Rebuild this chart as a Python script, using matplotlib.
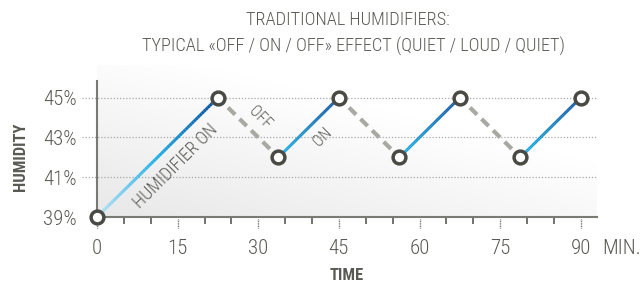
import numpy as np
import matplotlib
matplotlib.use("Agg")
import matplotlib.pyplot as plt
from matplotlib.collections import LineCollection
from matplotlib.colors import LinearSegmentedColormap
from matplotlib import font_manager

# ---- data ----
times = [0, 22.5, 33.75, 45, 56.25, 67.5, 78.75, 90]
humidity = [39, 45, 42, 45, 42, 45, 42, 45]
states = ["on", "off", "on", "off", "on", "off", "on"]
yticks = [39, 41, 43, 45]
ytick_labels = ["39%", "41%", "43%", "45%"]
xticks_major = [0, 15, 30, 45, 60, 75, 90]
xticks_minor = [5, 10, 20, 25, 35, 40, 50, 55, 65, 70, 80, 85]
title_lines = ["TRADITIONAL HUMIDIFIERS:",
               "TYPICAL «OFF / ON / OFF» EFFECT (QUIET / LOUD / QUIET)"]

names = {f.name for f in font_manager.fontManager.ttflist}
FONT = "Roboto Condensed" if "Roboto Condensed" in names else "DejaVu Sans"
plt.rcParams["font.family"] = [FONT, "DejaVu Sans"]
LIGHT = 300

TXT = "#5a5a55"
fig = plt.figure(figsize=(6.41, 2.87), dpi=100)
ax = fig.add_axes([0.1513, 0.2439, 0.78, 0.4749])
ax.set_xlim(0, 93)
ax.set_ylim(39, 45.85)

# gradient background
gx, gy = np.meshgrid(np.linspace(0, 1, 200), np.linspace(0, 1, 100))
g = np.clip(1 - (0.7 * gx + 0.85 * gy), 0, 1)
bg = LinearSegmentedColormap.from_list("bg", ["#ffffff", "#e8e8e8"])
ax.imshow(g, cmap=bg, extent=[0, 93, 39, 46.6], origin="lower", aspect="auto",
          zorder=0, clip_on=False, vmin=0, vmax=1)

# grid lines
for yv in yticks[1:]:
    ax.plot([-2.8, 93], [yv, yv], ls=(0, (1, 1.5)), color="#a8a8a8", lw=0.9,
            clip_on=False, zorder=1)

# spines
for s in ["top", "right"]:
    ax.spines[s].set_visible(False)
for s in ["left", "bottom"]:
    ax.spines[s].set_color("#7a7a75")
    ax.spines[s].set_linewidth(1.5)
    ax.spines[s].set_zorder(2)

ax.set_xticks(xticks_major)
ax.set_xticklabels([str(v) for v in xticks_major], fontweight=LIGHT)
ax.set_xticks(xticks_minor, minor=True)
ax.tick_params(axis="x", which="major", length=0, pad=16, labelsize=15, labelcolor=TXT)
ax.tick_params(axis="x", which="minor", length=5, width=1.2, color="#5a5a55", direction="out")
for xv in xticks_major:
    ax.plot([xv, xv], [38.92, 38.45], ls=(0, (0.6, 0.6)), color="#5a5a55", lw=1.0,
            clip_on=False, zorder=2)
ax.set_yticks(yticks)
ax.set_yticklabels(ytick_labels, fontweight=LIGHT)
ax.tick_params(axis="y", length=0, pad=14.5, labelsize=15, labelcolor=TXT)

# segments
on_cmap_first = LinearSegmentedColormap.from_list("on1", ["#b5e2f7", "#1aaee6", "#0a4c9c"])
on_cmap = LinearSegmentedColormap.from_list("on", ["#1ab4ea", "#0a4c9c"])
for i, st in enumerate(states):
    x0, x1 = times[i], times[i + 1]
    y0, y1 = humidity[i], humidity[i + 1]
    if st == "on":
        n = 60
        xs = np.linspace(x0, x1, n + 1)
        ys = np.linspace(y0, y1, n + 1)
        pts = np.array([xs, ys]).T.reshape(-1, 1, 2)
        segs = np.concatenate([pts[:-1], pts[1:]], axis=1)
        cm = on_cmap_first if i == 0 else on_cmap
        lc = LineCollection(segs, colors=cm(np.linspace(0, 1, n)), linewidth=2.2,
                            capstyle="butt", zorder=3)
        ax.add_collection(lc)
    else:
        ax.plot([x0, x1], [y0, y1], ls=(0.5, (2.4, 1.5)), color="#a9a9a3", lw=3,
                zorder=3, solid_capstyle="butt", dash_capstyle="butt")

ax.plot(times, humidity, ls="none", marker="o", ms=9.2, mfc="white", mec="#4a4a45",
        mew=2.5, zorder=4, clip_on=False)

# annotations
ax.text(14.7, 41.55, "HUMIDIFIER ON", rotation=45, ha="center", va="center",
        fontsize=13, color=TXT, rotation_mode="anchor", fontweight=LIGHT)
ax.text(30.3, 44.0, "OFF", rotation=-45, ha="center", va="center",
        fontsize=11.5, color=TXT, rotation_mode="anchor", fontweight=LIGHT)
ax.text(42.0, 43.0, "ON", rotation=45, ha="center", va="center",
        fontsize=11.5, color=TXT, rotation_mode="anchor", fontweight=LIGHT)

fig.text(348 / 641, 1 - 19.5 / 287, title_lines[0], ha="center", va="center",
         fontsize=13.2, color=TXT, fontweight=LIGHT)
fig.text(353 / 641, 1 - 46.5 / 287, title_lines[1], ha="center", va="center",
         fontsize=13.2, color=TXT, fontweight=LIGHT)
fig.text(21 / 641, 1 - 157 / 287, "HUMIDITY", rotation=90, ha="center", va="center",
         fontsize=12, fontweight="bold", color=TXT)
fig.text(347 / 641, 1 - 276 / 287, "TIME", ha="center", va="center",
         fontsize=12, fontweight="bold", color=TXT)
fig.text(602 / 641, 1 - 248 / 287, "MIN.", ha="left", va="center",
         fontsize=15, color=TXT, fontweight=LIGHT)

fig.savefig("out.png", dpi=100)
